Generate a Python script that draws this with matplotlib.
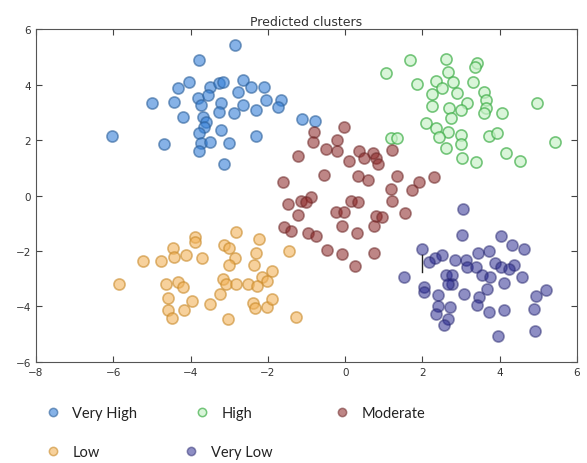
import numpy as np
import matplotlib.pyplot as plt
from matplotlib.lines import Line2D

# DATA
names = ["Very High", "High", "Moderate", "Low", "Very Low"]

very_high_x = [-2.84, -3.77, -4.05, -4.33, -5.0, -4.42, -4.2, -6.03, -4.70, -3.51,
               -3.26, -3.17, -2.65, -2.78, -2.44, -2.09, -3.82, -3.56, -3.73, -3.21,
               -2.65, -3.26, -2.87, -2.31, -2.05, -1.66, -1.75, -3.69, -3.6, -3.64,
               -3.21, -3.77, -3.73, -3.51, -3.77, -3.0, -2.31, -3.13, -1.12, -0.78]
very_high_y = [5.43, 4.88, 4.10, 3.86, 3.32, 3.36, 2.82, 2.14, 1.87, 3.92,
               4.04, 4.10, 4.16, 3.74, 3.9, 3.9, 3.5, 3.62, 3.26, 3.32,
               3.26, 3.02, 2.96, 3.1, 3.44, 3.44, 3.2, 2.84, 2.66, 2.48,
               2.36, 2.24, 1.88, 1.94, 1.6, 1.88, 2.16, 1.13, 2.75, 2.68]

high_x = [1.67, 1.07, 2.60, 3.42, 3.35, 2.65, 2.34, 1.87, 2.78, 2.51,
          3.31, 2.26, 2.90, 3.59, 3.64, 3.16, 2.26, 2.69, 2.99, 3.64,
          3.59, 4.07, 4.97, 2.73, 2.09, 2.34, 2.65, 2.43, 2.99, 2.99,
          2.60, 3.03, 3.38, 3.72, 3.94, 4.15, 4.52, 5.43, 1.18, 1.35]
high_y = [4.88, 4.43, 4.92, 4.79, 4.62, 4.47, 4.14, 4.02, 4.08, 3.89,
          4.10, 3.65, 3.68, 3.72, 3.44, 3.32, 3.22, 3.14, 3.08, 3.14,
          2.96, 2.96, 3.32, 2.78, 2.6, 2.42, 2.30, 2.12, 2.18, 1.84,
          1.70, 1.36, 1.22, 2.16, 2.24, 1.52, 1.24, 1.94, 2.09, 2.06]

moderate_x = [-0.03, -0.80, -0.84, -0.22, -0.50, -0.20, -1.23, 0.36, 0.71, 0.49,
              0.79, 0.10, 0.86, 1.21, -0.54, 0.32, 0.60, 1.35, 1.91, 2.30,
              1.74, -1.62, 1.18, -0.89, -1.14, -1.47, -1.02, 0.15, 0.32, 1.21,
              -1.23, -0.24, -0.03, 0.79, 0.96, 1.54, 0.75, -1.58, -1.40, -0.07,
              -0.97, -0.76, 0.30, -0.46, -0.09, 0.75, 0.26]
moderate_y = [2.48, 2.30, 1.94, 2.0, 1.67, 1.60, 1.42, 1.60, 1.54, 1.34,
              1.34, 1.24, 1.12, 1.64, 0.73, 0.70, 0.55, 0.70, 0.47, 0.65,
              0.19, 0.49, 0.25, -0.05, -0.21, -0.29, -0.23, -0.21, -0.23, -0.21,
              -0.69, -0.59, -0.59, -0.73, -0.77, -0.63, -1.09, -1.13, -1.29, -1.09,
              -1.37, -1.47, -1.37, -1.97, -2.12, -2.06, -2.54]

low_x = [-2.83, -3.88, -3.88, -2.22, -3.13, -3.0, -4.46, -2.31, -1.45, -5.24,
         -4.76, -4.42, -4.12, -3.70, -2.84, -3.01, -2.35, -1.89, -2.14, -2.01,
         -3.17, -3.08, -2.83, -2.52, -2.27, -5.86, -4.63, -4.33, -4.20, -3.24,
         -4.59, -3.96, -3.49, -2.38, -2.33, -2.03, -1.88, -4.59, -4.16, -4.48,
         -3.04, -1.27]
low_y = [-1.31, -1.49, -1.67, -1.58, -1.79, -1.91, -1.89, -2.06, -2.01, -2.36,
         -2.36, -2.21, -2.16, -2.27, -2.25, -2.52, -2.52, -2.73, -2.94, -3.09,
         -3.0, -3.18, -3.18, -3.21, -3.26, -3.18, -3.18, -3.12, -3.30, -3.54,
         -3.68, -3.82, -3.92, -3.87, -4.05, -4.02, -3.74, -4.12, -4.12, -4.42,
         -4.44, -4.38]

very_low_x = [3.06, 3.03, 4.04, 4.32, 4.63, 1.98, 3.72, 3.44, 2.51, 2.33,
              2.17, 2.84, 3.13, 3.16, 3.38, 3.89, 4.02, 4.37, 4.24, 1.52,
              2.60, 2.77, 2.77, 2.65, 3.55, 3.76, 4.57, 4.11, 2.04, 2.04,
              2.41, 3.07, 3.68, 3.46, 5.20, 4.93, 2.39, 2.71, 3.42, 3.72,
              4.11, 4.88, 2.34, 2.66, 2.56, 4.91, 3.96]
very_low_y = [-0.47, -1.41, -1.47, -1.79, -1.94, -1.94, -2.01, -2.09, -2.16, -2.27,
              -2.39, -2.34, -2.34, -2.57, -2.57, -2.45, -2.57, -2.52, -2.64, -2.94,
              -2.88, -2.88, -3.18, -3.18, -2.85, -2.94, -2.94, -3.14, -3.30, -3.48,
              -3.59, -3.54, -3.38, -3.66, -3.42, -3.62, -3.98, -4.02, -3.96, -4.20,
              -4.14, -4.08, -4.26, -4.47, -4.68, -4.90, -5.08]

# short dark stroke visible inside the Very Low cluster
stroke_x = [1.98, 1.98]
stroke_y = [-2.16, -2.75]

xs = [very_high_x, high_x, moderate_x, low_x, very_low_x]
ys = [very_high_y, high_y, moderate_y, low_y, very_low_y]

# face colour, edge colour, alpha per cluster
faces = ["#3580d8", "#c9f2c9", "#8a2323", "#f2b35a", "#1f1f8a"]
edges = ["#2c5f99", "#3fae48", "#6e2a2a", "#c98a2a", "#2a2a70"]
alphas = [0.6, 0.7, 0.55, 0.6, 0.5]

fig = plt.figure(figsize=(5.87, 4.64), dpi=100)
ax = fig.add_axes([0.0613, 0.218, 0.9217, 0.717])

handles = []
for x, y, fc, ec, a, name in zip(xs, ys, faces, edges, alphas, names):
    ax.scatter(x, y, s=64, facecolor=fc, edgecolor=ec, linewidth=1.2, alpha=a)
    handles.append(Line2D([], [], linestyle="none", marker="o", markersize=6,
                          markerfacecolor=fc, markeredgecolor=ec,
                          markeredgewidth=1.1, alpha=a))
ax.plot(stroke_x, stroke_y, color="#222222", linewidth=1)

ax.set_xlim(-8, 6)
ax.set_ylim(-6, 6)
ax.set_xticks(range(-8, 7, 2))
ax.set_yticks(range(-6, 7, 2))
ax.tick_params(direction="in", top=True, right=True, labelsize=7.5,
               length=4, color="#444444", labelcolor="#333333")
for sp in ax.spines.values():
    sp.set_color("#555555")
ax.set_title("Predicted clusters", fontsize=9, color="#333333", pad=3)

# legend entries laid out in two rows below the plot
spots = [(0.092, 0.108), (0.347, 0.108), (0.585, 0.108),
         (0.092, 0.024), (0.328, 0.024)]
for h, name, (lx, ly) in zip(handles, names, spots):
    leg = fig.legend(handles=[h], labels=[name], loc="center left",
                     bbox_to_anchor=(lx - 0.011, ly), frameon=False,
                     handlelength=0.7, handletextpad=1.0, borderpad=0,
                     borderaxespad=0, prop={"family": "Lato", "size": 10.5})
    for t in leg.get_texts():
        t.set_color("#222222")

fig.savefig("out.png", dpi=100)
